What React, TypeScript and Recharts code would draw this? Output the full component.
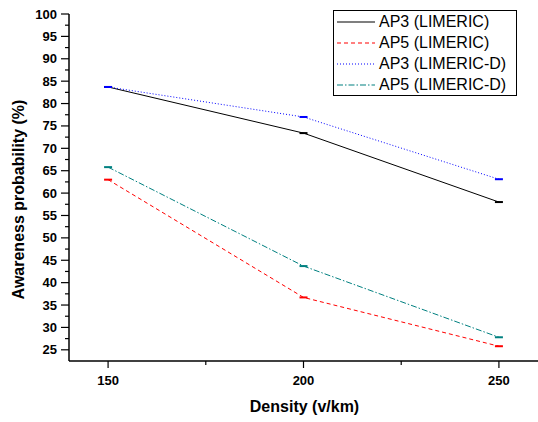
import React from 'react';
import { LineChart, Line, XAxis, YAxis, Legend, Label } from 'recharts';

const densities = [150, 200, 250];
const ap3Limeric = [83.7, 73.4, 58.0];
const ap5Limeric = [63.0, 36.7, 25.8];
const ap3LimericD = [83.7, 77.0, 63.1];
const ap5LimericD = [65.8, 43.7, 27.8];

const xTicks = [150, 175, 200, 225, 250];
const xLabelTicks = [150, 200, 250];
const yTicks = [25, 27.5, 30, 32.5, 35, 37.5, 40, 42.5, 45, 47.5, 50, 52.5, 55, 57.5, 60, 62.5, 65, 67.5, 70, 72.5, 75, 77.5, 80, 82.5, 85, 87.5, 90, 92.5, 95, 97.5, 100];

const FONT = "Arial, 'Liberation Sans', Helvetica, sans-serif";

const series = [
  { key: 'ap3L', name: 'AP3 (LIMERIC)', color: '#000000', dash: undefined as string | undefined, values: ap3Limeric },
  { key: 'ap5L', name: 'AP5 (LIMERIC)', color: '#ff0000', dash: '4 3', values: ap5Limeric },
  { key: 'ap3D', name: 'AP3 (LIMERIC-D)', color: '#0000ff', dash: '1 2', values: ap3LimericD },
  { key: 'ap5D', name: 'AP5 (LIMERIC-D)', color: '#008080', dash: '6 2 1.5 2', values: ap5LimericD },
];

const data = densities.map((d, i) => {
  const row: any = { density: d };
  series.forEach((s) => {
    row[s.key] = s.values[i];
  });
  return row;
});

const YTick = (props: any) => {
  const { x, y, payload } = props;
  const v = payload.value;
  const major = v % 5 === 0;
  return (
    <g>
      <line x1={x} x2={x - (major ? 8 : 4)} y1={y} y2={y} stroke="#000" strokeWidth={1.2} />
      {major && (
        <text x={x - 12} y={y} textAnchor="end" dominantBaseline="central" fontSize={13} fontWeight="bold" fontFamily={FONT} fill="#000">
          {v}
        </text>
      )}
    </g>
  );
};

const XTick = (props: any) => {
  const { x, y, payload } = props;
  const v = payload.value;
  const major = xLabelTicks.includes(v);
  return (
    <g>
      <line x1={x} x2={x} y1={y} y2={y + (major ? 7 : 4)} stroke="#000" strokeWidth={1.2} />
      {major && (
        <text x={x} y={y + 19} textAnchor="middle" dominantBaseline="central" fontSize={13} fontWeight="bold" fontFamily={FONT} fill="#000">
          {v}
        </text>
      )}
    </g>
  );
};

const DashDot = (props: any) => {
  const { cx, cy, stroke } = props;
  if (cx == null || cy == null) return null;
  return <rect x={cx - 4} y={cy - 1} width={8} height={2} fill={stroke} />;
};

const LegendBox = () => (
  <div
    style={{
      border: '1px solid #000',
      background: '#fff',
      width: 184,
      boxSizing: 'border-box',
      fontFamily: FONT,
      fontSize: 16,
      color: '#000',
    }}
  >
    {series.map((s) => (
      <div key={s.key} style={{ display: 'flex', alignItems: 'center', height: 21, whiteSpace: 'nowrap' }}>
        <svg width={45} height={21} style={{ display: 'block', flex: 'none' }}>
          <line x1={3} x2={41} y1={11} y2={11} stroke={s.color} strokeWidth={1.2} strokeDasharray={s.dash} />
        </svg>
        <span>{s.name}</span>
      </div>
    ))}
  </div>
);

const YLabel = (p: any) => {
  const vb = p.viewBox;
  const cx = vb.x + 18;
  const cy = vb.y + vb.height / 2 + 12;
  return (
    <text x={cx} y={cy} transform={`rotate(-90 ${cx} ${cy})`} textAnchor="middle" dominantBaseline="central" fontSize={16} fontWeight="bold" fontFamily={FONT} fill="#000">
      Awareness probability (%)
    </text>
  );
};

const XLabel = (p: any) => {
  const vb = p.viewBox;
  return (
    <text x={vb.x + vb.width / 2 + 1} y={vb.y + 45} textAnchor="middle" dominantBaseline="central" fontSize={16} fontWeight="bold" fontFamily={FONT} fill="#000">
      Density (v/km)
    </text>
  );
};

export default function App() {
  return (
    <div style={{ position: 'absolute', left: 0, top: 0, background: '#fff' }}>
      <LineChart width={538} height={422} data={data} margin={{ top: 14, right: 0, bottom: 0, left: 0 }}>
        <XAxis
          dataKey="density"
          type="number"
          domain={[140, 260]}
          ticks={xTicks}
          allowDataOverflow
          height={61}
          tickSize={0}
          tickMargin={0}
          tickLine={false}
          tick={<XTick />}
          axisLine={{ stroke: '#000', strokeWidth: 1.5 }}
          interval={0}
        >
          <Label content={(p: any) => <XLabel {...p} />} />
        </XAxis>
        <YAxis
          type="number"
          domain={[22.5, 100]}
          ticks={yTicks}
          allowDataOverflow
          width={69}
          tickSize={0}
          tickMargin={0}
          tickLine={false}
          tick={<YTick />}
          axisLine={{ stroke: '#000', strokeWidth: 1.5 }}
          interval={0}
        >
          <Label content={(p: any) => <YLabel {...p} />} />
        </YAxis>
        <Legend
          layout="vertical"
          align="center"
          verticalAlign="middle"
          content={() => <LegendBox />}
          wrapperStyle={{ left: 333, top: 10, width: 184, height: 86 }}
        />
        {series.map((s) => (
          <Line
            key={s.key}
            dataKey={s.key}
            name={s.name}
            stroke={s.color}
            strokeWidth={1}
            strokeDasharray={s.dash}
            type="linear"
            dot={<DashDot />}
            activeDot={false}
            isAnimationActive={false}
          />
        ))}
      </LineChart>
    </div>
  );
}
